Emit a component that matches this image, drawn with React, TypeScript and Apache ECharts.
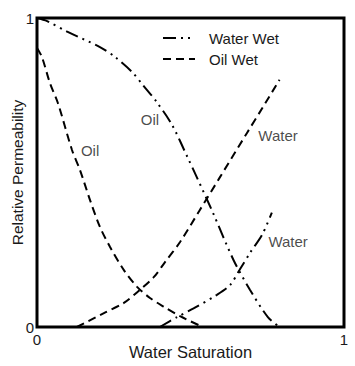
import React, { useEffect, useRef } from "react";
import * as echarts from "echarts";

const waterWetOil: [number, number][] = [
  [0.0, 1.0], [0.033, 0.99], [0.1, 0.955], [0.205, 0.906], [0.254, 0.874],
  [0.31, 0.825], [0.345, 0.783], [0.39, 0.728], [0.44, 0.654], [0.49, 0.55],
  [0.52, 0.486], [0.573, 0.37], [0.64, 0.217], [0.694, 0.12], [0.752, 0.032], [0.79, 0.0],
];
const waterWetWater: [number, number][] = [
  [0.4, 0.0], [0.456, 0.032], [0.51, 0.06], [0.586, 0.104], [0.629, 0.136],
  [0.66, 0.185], [0.694, 0.24], [0.733, 0.298], [0.765, 0.37],
];
const oilWetOil: [number, number][] = [
  [0.0, 0.903], [0.016, 0.874], [0.042, 0.79], [0.068, 0.725], [0.114, 0.573],
  [0.14, 0.508], [0.173, 0.41], [0.205, 0.324], [0.238, 0.259], [0.283, 0.184],
  [0.326, 0.13], [0.368, 0.094], [0.414, 0.065], [0.466, 0.035], [0.54, 0.0],
];
const oilWetWater: [number, number][] = [
  [0.13, 0.0], [0.218, 0.045], [0.283, 0.078], [0.335, 0.12], [0.381, 0.162],
  [0.417, 0.21], [0.466, 0.275], [0.53, 0.378], [0.596, 0.485], [0.684, 0.628],
  [0.736, 0.712], [0.79, 0.8],
];
const curveLabels: { name: string; value: [number, number] }[] = [
  { name: "Oil", value: [0.368, 0.67] },
  { name: "Oil", value: [0.173, 0.57] },
  { name: "Water", value: [0.785, 0.62] },
  { name: "Water", value: [0.818, 0.278] },
];
const xTicks = ["0", "1"];
const yTicks = ["0", "1"];
const legendNames = ["Water Wet", "Oil Wet"];

const FONT = "'Liberation Sans', Arial, sans-serif";
const TXT = "#1a1a1a";
const DASH_DOT_DOT = [13, 5, 2, 5, 2, 5];
const DASHED = [8, 5];

export default function App() {
  const ref = useRef<HTMLDivElement>(null);
  useEffect(() => {
    if (!ref.current) return;
    const chart = echarts.init(ref.current, undefined, { renderer: "svg" });
    const lineSeries = (data: [number, number][], dash: number[]) => ({
      type: "line",
      data,
      smooth: 0.3,
      showSymbol: false,
      symbol: "none",
      lineStyle: { color: "#000", width: 2, type: dash },
      z: 3,
    });
    chart.setOption({
      animation: false,
      grid: {
        left: 37,
        top: 18,
        right: 11,
        bottom: 39,
        show: true,
        borderColor: "#000",
        borderWidth: 3,
        containLabel: false,
        outerBoundsMode: "none",
      },
      xAxis: {
        type: "value",
        min: 0,
        max: 1,
        interval: 1,
        name: "Water Saturation",
        nameLocation: "middle",
        nameGap: 16,
        nameMoveOverlap: false,
        nameTextStyle: { fontFamily: FONT, fontSize: 16.5, color: TXT, verticalAlign: "top" },
        axisLine: { show: false },
        axisTick: { show: false },
        splitLine: { show: false },
        axisLabel: {
          fontFamily: FONT,
          fontSize: 15,
          color: TXT,
          margin: 5,
          formatter: (v: number) => xTicks[Math.round(v)],
        },
      },
      yAxis: {
        type: "value",
        min: 0,
        max: 1,
        interval: 1,
        name: "Relative Permeability",
        nameLocation: "middle",
        nameGap: 12,
        nameMoveOverlap: false,
        nameTextStyle: { fontFamily: FONT, fontSize: 15.5, color: TXT },
        axisLine: { show: false },
        axisTick: { show: false },
        splitLine: { show: false },
        axisLabel: {
          fontFamily: FONT,
          fontSize: 15,
          color: TXT,
          margin: 3,
          formatter: (v: number) => yTicks[Math.round(v)],
        },
      },
      series: [
        lineSeries(waterWetOil, DASH_DOT_DOT),
        lineSeries(waterWetWater, DASH_DOT_DOT),
        lineSeries(oilWetOil, DASHED),
        lineSeries(oilWetWater, DASHED),
        {
          type: "scatter",
          data: curveLabels,
          symbolSize: 0,
          label: {
            show: true,
            position: "inside",
            formatter: (p: any) => p.name,
            fontFamily: FONT,
            fontSize: 15,
            color: TXT,
          },
          z: 4,
        },
      ],
      graphic: [
        {
          type: "line",
          shape: { x1: 163, y1: 38, x2: 195, y2: 38 },
          style: { stroke: "#000", lineWidth: 2, lineDash: DASH_DOT_DOT },
        },
        {
          type: "line",
          shape: { x1: 163, y1: 59, x2: 195, y2: 59 },
          style: { stroke: "#000", lineWidth: 2, lineDash: DASHED },
        },
        {
          type: "text",
          x: 209,
          y: 38,
          style: { text: legendNames[0], font: `15px ${FONT}`, fill: TXT, verticalAlign: "middle" },
        },
        {
          type: "text",
          x: 209,
          y: 59,
          style: { text: legendNames[1], font: `15px ${FONT}`, fill: TXT, verticalAlign: "middle" },
        },
      ],
    });
    return () => chart.dispose();
  }, []);
  return (
    <div
      ref={ref}
      style={{ position: "fixed", left: 0, top: 0, width: 355, height: 366, background: "#fff" }}
    />
  );
}
